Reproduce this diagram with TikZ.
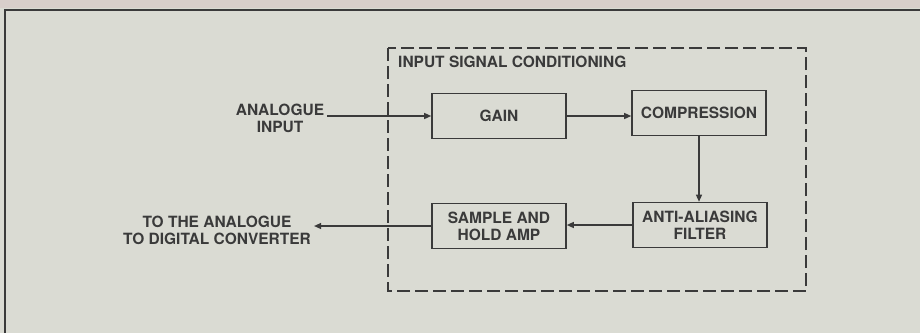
\documentclass[tikz,border=0pt]{standalone}
\usepackage{fontspec}
\setmainfont{TeX Gyre Heros}
\usepackage{tikz}
\usetikzlibrary{arrows.meta, positioning, fit}
\usepackage{xcolor}
\definecolor{papercolor}{HTML}{DADBD3}
\definecolor{edgecolor}{HTML}{D8CECA}
\definecolor{inkcolor}{HTML}{3A3A3A}

\begin{document}
\begin{tikzpicture}[
    x=1pt, y=-1pt,
    block/.style={rectangle, draw=inkcolor, line width=1.6pt, minimum width=134pt, minimum height=45pt, inner sep=0pt, font=\bfseries\fontsize{15.5}{17}\selectfont, text=inkcolor, align=center},
    label/.style={font=\bfseries\fontsize{15.5}{17}\selectfont, text=inkcolor, align=center, inner sep=3pt},
    signal/.style={-{Triangle[length=7pt, width=6pt]}, draw=inkcolor, line width=1.3pt},
    group/.style={draw=inkcolor, line width=1.8pt, dash pattern=on 13pt off 5pt, inner sep=0pt},
]

% paper and frame
\useasboundingbox (0,0) rectangle (920,333);
\fill[papercolor] (0,0) rectangle (920,333);
\fill[edgecolor] (0,0) rectangle (920,8);
\draw[inkcolor, line width=2pt] (5,333) -- (5,9.5) -- (920,9.5);

% blocks
\node[block] (gain) at (499,116) {GAIN};
\node[block] (comp) at (699,113) {COMPRESSION};
\node[block] (filt) at (700,225) {ANTI-ALIASING\\FILTER};
\node[block] (sah) at (499,226) {SAMPLE AND\\HOLD AMP};

% conditioning group
\coordinate (grouptl) at (388,48);
\coordinate (groupbr) at (806,291);
\draw[group] (grouptl) rectangle (groupbr);
\node[label, anchor=north west, inner sep=0pt] (title) at (398,56) {INPUT SIGNAL CONDITIONING};

% input and output texts
\node[label] (ain) at (280,118) {ANALOGUE\\INPUT};
\node[label] (adc) at (217,230) {TO THE ANALOGUE\\TO DIGITAL CONVERTER};

% signal path
\draw[signal] (gain.west -| ain.east) -- (gain.west);
\draw[signal] (gain.east) -- (gain.east -| comp.west);
\draw[signal] (comp.south) -- (filt.north -| comp.south);
\draw[signal] (filt.west) -- (filt.west -| sah.east);
\draw[signal] (sah.west) -- (sah.west -| adc.east);

\end{tikzpicture}
\end{document}
